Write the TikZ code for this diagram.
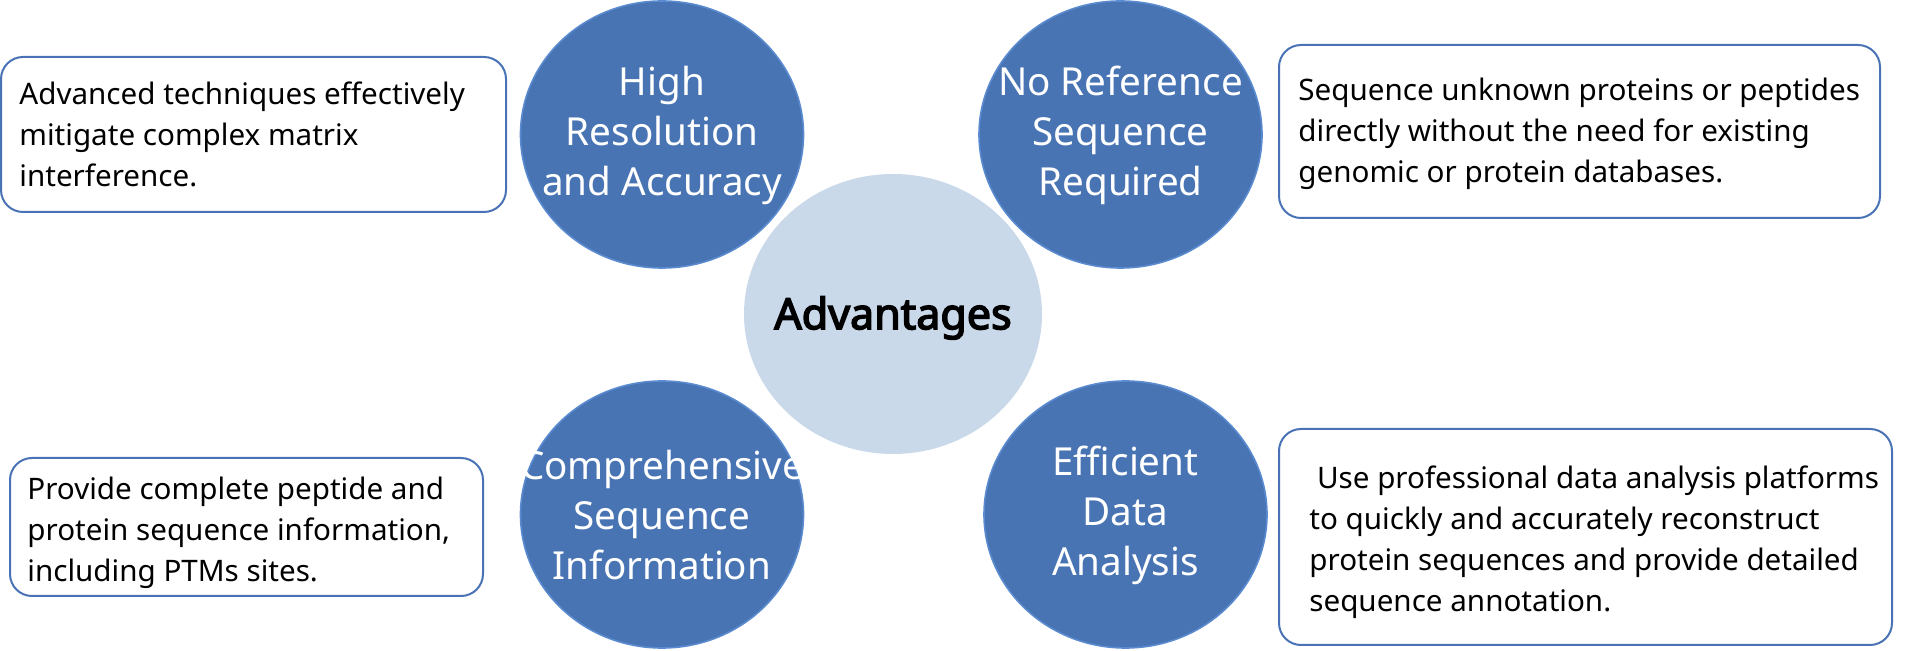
\documentclass[tikz,border=0pt]{standalone}
\usepackage{fontspec}
\setmainfont{Noto Sans}
\newfontfamily\hubfont{Noto Sans}[FakeBold=3.5]
\usetikzlibrary{shapes.geometric}
\definecolor{cdark}{HTML}{4874B3}
\definecolor{cedge}{HTML}{5A8ACF}
\definecolor{clight}{HTML}{C9D9EA}
\definecolor{cbox}{HTML}{4A73B6}
\tikzset{
  adv/.style={ellipse, fill=cdark, draw=cedge, line width=0.8pt, inner sep=0pt,
    minimum width=141.5pt, minimum height=133.5pt},
  advtext/.style={text=white, align=center, inner sep=0pt,
    font=\fontsize{19.3}{25}\selectfont},
  hub/.style={ellipse, fill=clight, draw=none, inner sep=0pt,
    minimum width=149pt, minimum height=140pt},
  hubtext/.style={inner sep=0pt, font=\fontsize{21.5}{24}\hubfont},
  infobox/.style={draw=cbox, line width=1pt, rounded corners=11pt, fill=white},
  infotext/.style={anchor=west, align=left, inner sep=0pt, font=\fontsize{14.8}{20.5}\selectfont}
}
\begin{document}
\begin{tikzpicture}[x=0.5pt,y=-0.5pt]
\useasboundingbox (0,0) rectangle (1907,651);
% boxes
\draw[infobox] (1,57) rectangle (506,212);
\draw[infobox] (1279,45) rectangle (1880,218);
\draw[infobox] (10,458) rectangle (483,596);
\draw[infobox] (1279,429) rectangle (1892,645);
\node[infotext] (t1) at (19,134) {Advanced techniques effectively\\mitigate complex matrix\\interference.};
\node[infotext] (t2) at (1298,134) {Sequence unknown proteins or peptides\\directly without the need for existing\\genomic or protein databases.};
\node[infotext] (t3) at (27,533) {Provide complete peptide and\\protein sequence information,\\including PTMs sites.};
\node[infotext] (t4) at (1309,542) {\ Use professional data analysis platforms\\to quickly and accurately reconstruct\\protein sequences and provide detailed\\sequence annotation.};
% circles
\node[hub] (hub) at (893,314) {};
\node[hubtext] (hubt) at ([yshift=-2pt]hub.center) {Advantages};
\node[adv] (c1) at (662,134.5) {};
\node[adv] (c2) at (1120.5,134.5) {};
\node[adv] (c3) at (662,514.5) {};
\node[adv] (c4) at (1125.5,514.5) {};
\node[advtext] (c1t) at ([yshift=-0.5pt]c1.center) {High\\Resolution\\and Accuracy};
\node[advtext] (c2t) at ([yshift=-0.5pt]c2.center) {No Reference\\Sequence\\Required};
\node[advtext] (c3t) at ([yshift=-0.5pt]c3.center) {Comprehensive\\Sequence\\Information};
\node[advtext] (c4t) at ([yshift=-0.5pt]c4.center) {Efficient\\Data\\Analysis};
\end{tikzpicture}
\end{document}
